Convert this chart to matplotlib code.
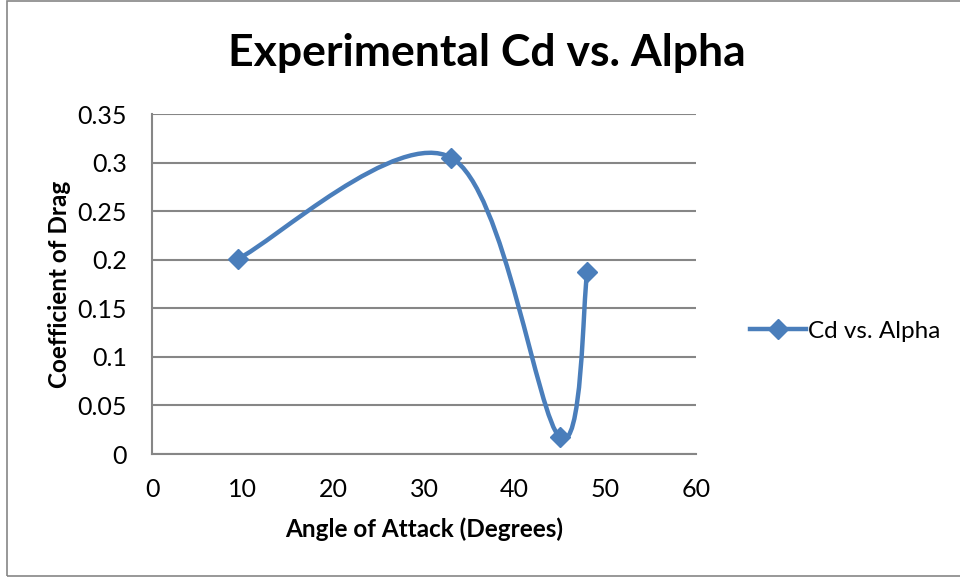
import numpy as np
import matplotlib.pyplot as plt
from matplotlib.path import Path
from matplotlib.patches import PathPatch, Rectangle
from matplotlib.lines import Line2D

# data
alpha = [9.5, 33, 45, 48]
cd = [0.201, 0.305, 0.017, 0.187]
xticks = [0, 10, 20, 30, 40, 50, 60]
yticks = [0, 0.05, 0.1, 0.15, 0.2, 0.25, 0.3, 0.35]
ytick_labels = ['0', '0.05', '0.1', '0.15', '0.2', '0.25', '0.3', '0.35']

blue = '#4a7ebb'
grid_col = '#868686'
font = ['Lato', 'DejaVu Sans']

def smooth_path(x, y):
    # Excel-like smoothed line: cubic bezier through points (catmull-rom, 1/6)
    pts = np.column_stack([x, y]).astype(float)
    n = len(pts)
    verts = [pts[0]]
    codes = [Path.MOVETO]
    for i in range(n - 1):
        p0 = pts[i - 1] if i > 0 else pts[i]
        p1 = pts[i]
        p2 = pts[i + 1]
        p3 = pts[i + 2] if i + 2 < n else pts[i + 1]
        c1 = p1 + (p2 - p0) / 6
        c2 = p2 - (p3 - p1) / 6
        verts += [c1, c2, p2]
        codes += [Path.CURVE4] * 3
    return Path(verts, codes)

fig = plt.figure(figsize=(9.6, 5.77), dpi=100)
ax = fig.add_axes([152/960, 1 - 454/577, 544/960, 340/577])

ax.add_patch(PathPatch(smooth_path(alpha, cd), fill=False, edgecolor=blue,
                       lw=3.2, capstyle='round', zorder=3))
ax.plot(alpha, cd, linestyle='none', marker='D', ms=10, color=blue, zorder=4)

ax.set_xlim(0, 60)
ax.set_ylim(0, 0.35)
ax.set_xticks(xticks)
ax.set_yticks(yticks)
ax.set_yticklabels(ytick_labels)
ax.tick_params(length=0, labelsize=18)
ax.tick_params(axis='x', pad=17)
ax.tick_params(axis='y', pad=18)
for lab in ax.get_xticklabels() + ax.get_yticklabels():
    lab.set_family(font)
ax.yaxis.grid(True, color=grid_col, lw=1.5)
ax.set_axisbelow(True)
for s in ['top', 'right']:
    ax.spines[s].set_visible(False)
for s in ['left', 'bottom']:
    ax.spines[s].set_color(grid_col)
    ax.spines[s].set_linewidth(1.5)

ax.set_xlabel('Angle of Attack (Degrees)', fontsize=17.5, fontweight='bold',
              family=font, labelpad=12)
ax.set_ylabel('Coefficient of Drag', fontsize=17.5, fontweight='bold',
              family=font, labelpad=5)

fig.text(487/960, 1 - 53/577, 'Experimental Cd vs. Alpha', ha='center',
         va='center', fontsize=32, fontweight='bold', family=font)

# legend
handle = Line2D([], [], color=blue, lw=3.2, marker='D', ms=10)
fig.legend([handle], ['Cd vs. Alpha'], loc='center left',
           bbox_to_anchor=(750/960, 1 - 331/577), frameon=False,
           prop={'family': font, 'size': 17.5}, handlelength=2.3,
           handletextpad=0.1, borderaxespad=0, borderpad=0)

fig.patches.append(Rectangle((7/960, 1/577), 1.1, 575/577, transform=fig.transFigure,
                             fill=False, edgecolor='#868686', lw=1.2))

fig.savefig('out.png', dpi=100)
